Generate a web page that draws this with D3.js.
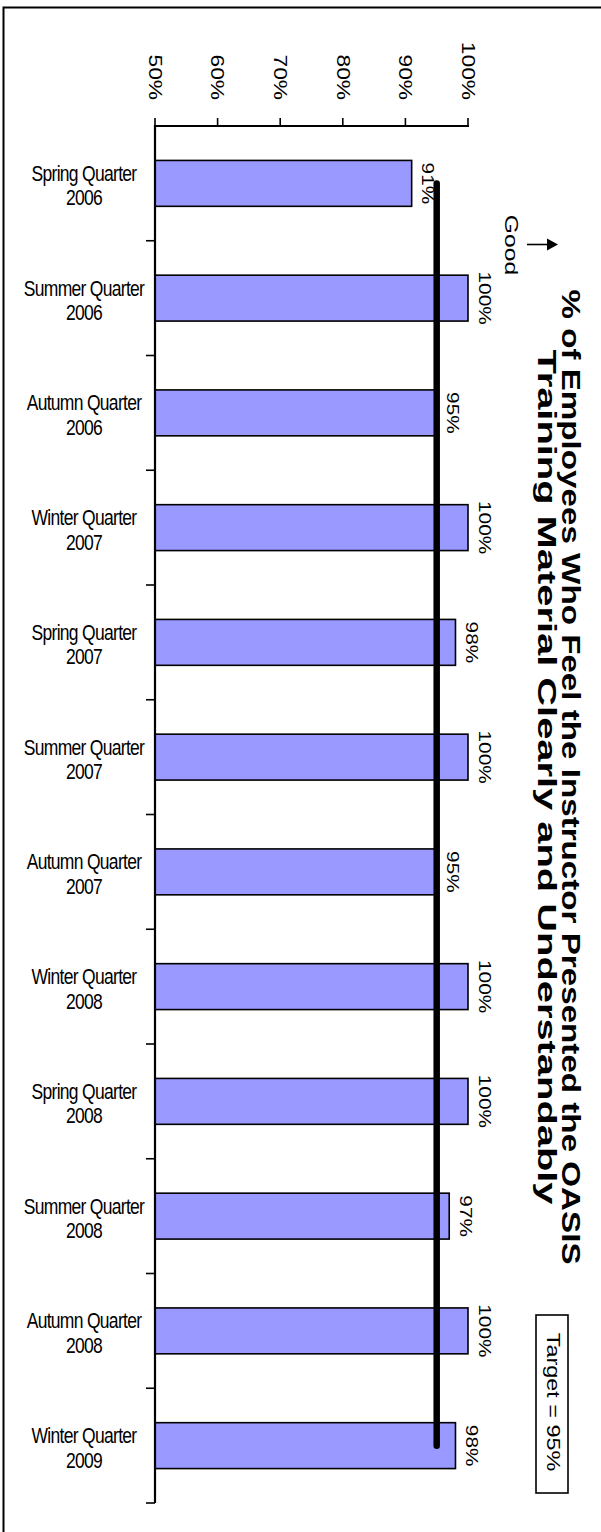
<!DOCTYPE html>
<html>
<head>
<meta charset="utf-8">
<script src="https://cdn.jsdelivr.net/npm/d3@7"></script>
<style>
  html, body { margin: 0; padding: 0; background: #fff; }
  svg { display: block; }
  text { font-family: "Liberation Sans", Arial, sans-serif; fill: #000; }
</style>
</head>
<body>
<svg id="chart" width="601" height="1532"></svg>
<script>
// Quarterly survey results
const categories = [
  "Spring Quarter|2006", "Summer Quarter|2006", "Autumn Quarter|2006",
  "Winter Quarter|2007", "Spring Quarter|2007", "Summer Quarter|2007",
  "Autumn Quarter|2007", "Winter Quarter|2008", "Spring Quarter|2008",
  "Summer Quarter|2008", "Autumn Quarter|2008", "Winter Quarter|2009"
];
const values = [0.91, 1.00, 0.95, 1.00, 0.98, 1.00, 0.95, 1.00, 1.00, 0.97, 1.00, 0.98];
const target = 0.95;
const tickValues = [0.5, 0.6, 0.7, 0.8, 0.9, 1.0];
const titleLines = [
  "% of Employees Who Feel the Instructor Presented the OASIS",
  "Training Material Clearly and Understandably"
];
const targetLabel = "Target = 95%";
const goodLabel = "Good";

const svg = d3.select("#chart");
const SY = 1.3;              // vertical stretch applied to all lettering
const fmt = d3.format(".0%");

// value runs left→right, categories run top→bottom
const x = d3.scaleLinear().domain([0.5, 1.0]).range([155, 468]);
const y = d3.scaleBand().domain(categories).range([126, 1503])
  .paddingInner(0.6).paddingOuter(0.3);
const mid = c => y(c) + y.bandwidth() / 2;

// outer frame
svg.append("rect")
  .attr("x", 3.5).attr("y", 7.5).attr("width", 700).attr("height", 1600)
  .attr("fill", "none").attr("stroke", "#000").attr("stroke-width", 2);

// bars
svg.append("g").selectAll("rect")
  .data(values)
  .join("rect")
  .attr("x", x(0.5))
  .attr("y", (d, i) => y(categories[i]))
  .attr("width", d => x(d) - x(0.5))
  .attr("height", y.bandwidth())
  .attr("fill", "#9999FF")
  .attr("stroke", "#000")
  .attr("stroke-width", 1.6);

// value labels, turned a quarter clockwise
svg.append("g").selectAll("text")
  .data(values)
  .join("text")
  .attr("text-anchor", "middle")
  .style("font-size", "16px")
  .attr("transform", (d, i) =>
    `translate(${x(d) + 10.5},${mid(categories[i])}) scale(1,${SY}) rotate(90)`)
  .text(d => fmt(d));

// value axis (top)
const xAxis = svg.append("g");
xAxis.append("line")
  .attr("x1", x(0.5) - 1).attr("x2", x(1.0) + 1)
  .attr("y1", 126).attr("y2", 126)
  .attr("stroke", "#000").attr("stroke-width", 2.2);
xAxis.selectAll("line.tick")
  .data(tickValues)
  .join("line")
  .attr("class", "tick")
  .attr("x1", d => x(d)).attr("x2", d => x(d))
  .attr("y1", 118).attr("y2", 126)
  .attr("stroke", "#000").attr("stroke-width", 1.6);
xAxis.selectAll("text")
  .data(tickValues)
  .join("text")
  .attr("text-anchor", "end")
  .style("font-size", "17.5px")
  .attr("transform", d => `translate(${x(d) - 6.3},100) scale(1,${SY}) rotate(90)`)
  .text(d => fmt(d));

// category axis (left)
const yAxis = svg.append("g");
yAxis.append("line")
  .attr("x1", 155).attr("x2", 155)
  .attr("y1", 125).attr("y2", 1503)
  .attr("stroke", "#000").attr("stroke-width", 2.2);
const step = y.step();
yAxis.selectAll("line.tick")
  .data(categories)
  .join("line")
  .attr("class", "tick")
  .attr("x1", 146).attr("x2", 155)
  .attr("y1", (d, i) => 126 + (i + 1) * step)
  .attr("y2", (d, i) => 126 + (i + 1) * step)
  .attr("stroke", "#000").attr("stroke-width", 1.6);
yAxis.selectAll("g.cat")
  .data(categories)
  .join("g")
  .attr("class", "cat")
  .attr("transform", d => `translate(84,${mid(d)})`)
  .each(function (d) {
    const g = d3.select(this);
    d.split("|").forEach((p, k) => {
      g.append("text")
        .attr("text-anchor", "middle")
        .style("font-size", "17.5px")
        .style("letter-spacing", "-0.7px")
        .attr("transform", `translate(0,${k === 0 ? -2.5 : 22}) scale(1,${SY})`)
        .text(p);
    });
  });

// target line
svg.append("line")
  .attr("x1", x(target)).attr("x2", x(target))
  .attr("y1", mid(categories[0]))
  .attr("y2", mid(categories[categories.length - 1]))
  .attr("stroke", "#000").attr("stroke-width", 6.5)
  .attr("stroke-linecap", "round");

// direction hint
svg.append("text")
  .attr("text-anchor", "middle")
  .style("font-size", "19px")
  .attr("transform", `translate(505,245) scale(1,${SY}) rotate(90)`)
  .text(goodLabel);
svg.append("line")
  .attr("x1", 527).attr("x2", 549)
  .attr("y1", 244.5).attr("y2", 244.5)
  .attr("stroke", "#000").attr("stroke-width", 1.6);
svg.append("path")
  .attr("d", "M547,238.5 L558,244.5 L547,250.5 Z")
  .attr("fill", "#000");

// title
const titleX = [562, 538];
const titleLen = [975, 855];
titleLines.forEach((t, k) => {
  svg.append("text")
    .attr("text-anchor", "middle")
    .style("font-size", "25px")
    .style("font-weight", "bold")
    .attr("textLength", titleLen[k] / SY)
    .attr("lengthAdjust", "spacingAndGlyphs")
    .attr("transform", `translate(${titleX[k]},777) scale(1,${SY}) rotate(90)`)
    .text(t);
});

// target legend box
svg.append("rect")
  .attr("x", 536).attr("y", 1315).attr("width", 32).attr("height", 178)
  .attr("fill", "#fff").attr("stroke", "#000").attr("stroke-width", 1.6);
svg.append("text")
  .attr("text-anchor", "middle")
  .style("font-size", "18px")
  .attr("transform", `translate(547,1402) scale(1,${SY}) rotate(90)`)
  .text(targetLabel);
</script>
</body>
</html>
